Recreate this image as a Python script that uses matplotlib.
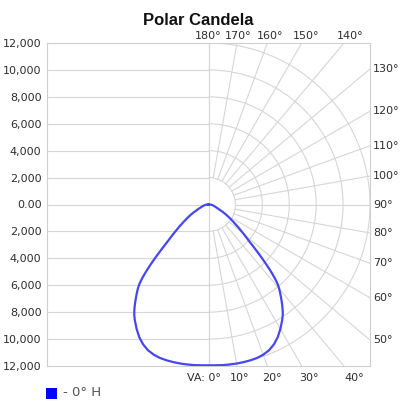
import numpy as np
import matplotlib
matplotlib.use("Agg")
import matplotlib.pyplot as plt
from matplotlib.patches import Rectangle, Arc

# ---- data ----
angles_deg = [0, 2.5, 5, 7.5, 10, 12.5, 15, 17.5, 20, 22.5, 25, 27.5, 30, 32.5,
              34, 35, 36, 37, 38, 39, 40, 41, 42, 43, 44, 45, 46, 47, 48, 49, 50,
              52.5, 55, 57.5, 60, 62.5, 65, 67.5, 70, 72.5, 75,
              77.5, 80, 82.5, 85, 87.5, 90]
candela = [11950, 11960, 11980, 11990, 12000, 12000, 11990, 11960, 11880, 11730, 11480,
           11130, 10680, 10190,
           9870, 9610, 9330, 9040, 8750, 8460, 8170, 7830, 7360, 6790, 6180, 5570,
           5000, 4480, 4050, 3710, 3430,
           2790, 2270, 1870, 1520, 1180, 900, 720, 590, 500, 420,
           360, 300, 230, 160, 80, 0]
series_label = "- 0° H"
title = "Polar Candela"
y_ticks = [-12000, -10000, -8000, -6000, -4000, -2000, 0, 2000, 4000, 6000, 8000, 10000, 12000]
ring_radii = [2000, 4000, 6000, 8000, 10000, 12000]
spoke_angles = list(range(0, 190, 10))
top_labels = [180, 170, 160, 150, 140]
right_labels = [130, 120, 110, 100, 90, 80, 70, 60, 50]
bottom_labels = [0, 10, 20, 30, 40]

W, H = 409, 405
fig = plt.figure(figsize=(W / 100, H / 100), dpi=100)
L, R, T, B = 47, 370, 43, 366
ax = fig.add_axes([L / W, (H - B) / H, (R - L) / W, (B - T) / H])
RMAX = 12000
ax.set_xlim(-RMAX, RMAX)
ax.set_ylim(-RMAX, RMAX)

grid_c = "#d6d6d6"
txt_c = "#2e2e2e"
lw_g = 0.8

# left half horizontal grid lines
for y in y_ticks:
    ax.plot([-RMAX, 0], [y, y], color=grid_c, lw=lw_g, zorder=1, solid_capstyle="butt")
# center vertical line
ax.plot([0, 0], [-RMAX, RMAX], color=grid_c, lw=lw_g, zorder=1)
# arcs on right half
for r in ring_radii:
    ax.add_patch(Arc((0, 0), 2 * r, 2 * r, theta1=-90, theta2=90,
                     color=grid_c, lw=lw_g, zorder=1))
# spokes (angle measured from straight down)
for a in spoke_angles:
    t = np.radians(a)
    dx, dy = np.sin(t), -np.cos(t)
    s = min(RMAX / abs(dx) if abs(dx) > 1e-9 else np.inf,
            RMAX / abs(dy) if abs(dy) > 1e-9 else np.inf)
    ax.plot([2000 * dx, s * dx], [2000 * dy, s * dy], color=grid_c, lw=lw_g, zorder=1)

# curve (mirrored)
th = np.radians(np.array(angles_deg))
c = np.array(candela, dtype=float)
xr = c * np.sin(th)
yr = -c * np.cos(th)
xs = np.concatenate([-xr[::-1], xr[1:]])
ys = np.concatenate([yr[::-1], yr[1:]])
ax.plot(xs, ys, color="#4646f2", lw=1.6, zorder=3, solid_joinstyle="round")

# axes styling
for sp in ax.spines.values():
    sp.set_color("#cfcfcf")
    sp.set_linewidth(0.8)
ax.set_xticks([])
ax.set_yticks(y_ticks)
ax.set_yticklabels(["0.00" if v == 0 else f"{abs(v):,}" for v in y_ticks],
                   fontsize=8, color=txt_c)
ax.tick_params(axis="y", length=0, pad=4)

# angle labels
scale = RMAX / 161.5  # data units per pixel
top_off = 168.5 * scale
for a in top_labels:
    t = np.radians(180 - a)
    x = top_off * np.tan(t)
    ax.text(x, top_off, f"{a}°", ha="center", va="center", fontsize=8, color=txt_c,
            clip_on=False)
for a in right_labels:
    t = np.radians(a - 90)
    y = RMAX * np.tan(t)
    ax.text(RMAX + 3 * scale, y, f"{a}°", ha="left", va="center", fontsize=8,
            color=txt_c, clip_on=False)
bot_off = 173.5 * scale
for a in bottom_labels:
    t = np.radians(a)
    x = bot_off * np.tan(t)
    if a == 0:
        ax.text(x + 12.5 * scale, -bot_off, "VA: 0°", ha="right", va="center", fontsize=8,
                color=txt_c, clip_on=False)
    else:
        ax.text(x, -bot_off, f"{a}°", ha="center", va="center", fontsize=8, color=txt_c,
                clip_on=False)

# title
fig.text(198.5 / W, 1 - 20.5 / H, title, ha="center", va="center",
         fontsize=12, fontweight="bold", family="Liberation Sans", color="#111111")

# legend
fig.add_artist(Rectangle((46 / W, 1 - 398.5 / H), 11 / W, 11 / H,
                         transform=fig.transFigure, facecolor="#0000ff", edgecolor="none"))
fig.text(63 / W, 1 - 393 / H, series_label, ha="left", va="center", fontsize=9.5,
         color="#555555")

fig.savefig("out.png", dpi=100)
